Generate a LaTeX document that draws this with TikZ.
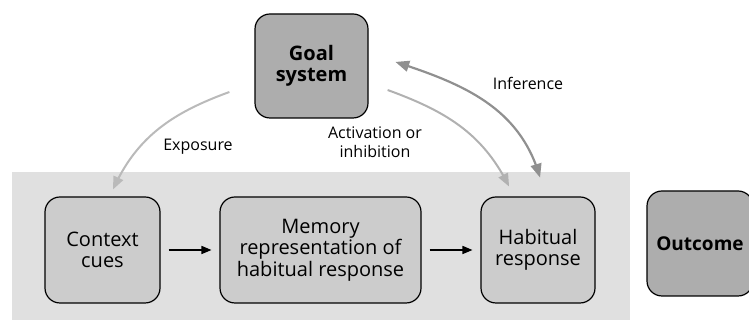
\documentclass[tikz,border=0pt]{standalone}
\usepackage{fontspec}
\setmainfont{Open Sans}
\usetikzlibrary{arrows, calc, positioning}
\definecolor{goalfill}{HTML}{ADADAD}
\definecolor{cuefill}{HTML}{CCCCCC}
\definecolor{zonefill}{HTML}{E0E0E0}
\definecolor{paleline}{HTML}{BABABA}
\definecolor{midline}{HTML}{909090}
\newcommand{\boxf}{\fontsize{20}{21.5}\selectfont}
\newcommand{\labf}{\fontsize{16}{19.5}\selectfont}

\begin{document}
\begin{tikzpicture}[x=1pt,y=1pt,>=triangle 45,
  stage/.style={draw, line width=1.2pt, rounded corners=15pt, fill=cuefill,
    align=center, inner sep=0pt, minimum height=106pt, font=\boxf},
  goalbox/.style={stage, fill=goalfill, font=\boxf\bfseries},
  link/.style={->, line width=1.3pt, shorten <=8pt, shorten >=8pt},
  feed/.style={->, line width=2pt, color=paleline},
  lab/.style={align=center, inner sep=0pt, font=\labf}]
\clip (0,0) rectangle (749,320);

%Vung thoi quen
\fill[zonefill] (12,-5) rectangle (630,148);

%Cac khoi
\node[goalbox, minimum width=113pt, minimum height=104pt] (goal) at (311.5,254) {Goal\\system};
\node[stage, minimum width=115pt] (cues) at (102.5,70) {Context\\cues};
\node[stage, minimum width=201pt] (memory) at (320.5,70) {Memory\\representation of\\habitual response};
\node[stage, minimum width=114pt] (habit) at (538,70) {Habitual\\response};
\node[goalbox, minimum width=106pt, minimum height=105pt, font=\fontsize{19}{21.5}\selectfont\bfseries] (outcome) at (700,76.5) {Outcome};

%Noi cac khoi
\draw[link] (cues) -- (memory);
\draw[link] (memory) -- (habit);

%Mui ten cong
\coordinate (expstart) at ($(goal.west)+(-25,-26)$);
\coordinate (expend) at ($(cues.north)+(10.5,7)$);
\draw[feed] (expstart) to[out=200,in=65] (expend);
\coordinate (actstart) at ($(goal.east)+(19,-24)$);
\coordinate (actend) at ($(habit.north)+(-29,10)$);
\draw[feed, color=paleline!95!black] (actstart) to[out=-20,in=117] (actend);
\coordinate (infstart) at ($(goal.east)+(27,4)$);
\coordinate (infend) at ($(habit.north)+(2,19)$);
\draw[feed, <->, color=midline, line width=2.2pt] (infstart) to[out=-18,in=107] (infend);

%Nhan
\node[lab] (explab) at (198,173) {Exposure};
\node[lab] (actlab) at (375,178) {Activation or\\inhibition};
\node[lab] (inflab) at (528,237) {Inference};
\end{tikzpicture}
\end{document}
